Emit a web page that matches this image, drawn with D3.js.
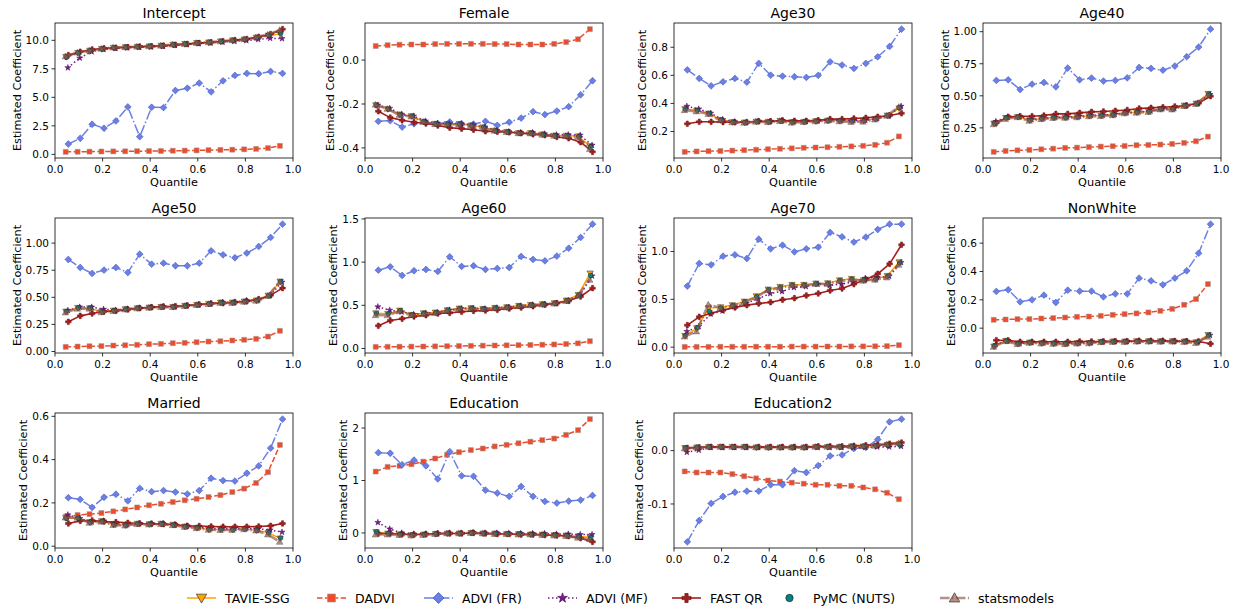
<!DOCTYPE html>
<html><head><meta charset="utf-8">
<script src="https://cdn.jsdelivr.net/npm/d3@7"></script>
<style>body{margin:0;background:#fff;} text{font-family:"DejaVu Sans",sans-serif;fill:#000;}</style>
</head><body><svg id="c" width="1237" height="609"></svg>
<script>
// ---------- DATA ----------
const quantiles = [0.05,0.10,0.15,0.20,0.25,0.30,0.35,0.40,0.45,0.50,0.55,0.60,0.65,0.70,0.75,0.80,0.85,0.90,0.95];
const panels = ["Intercept","Female","Age30","Age40","Age50","Age60","Age70","NonWhite","Married","Education","Education2"];
const yTicks = [
  [0,2.5,5,7.5,10],[-0.4,-0.2,0],[0.2,0.4,0.6,0.8],[0.25,0.5,0.75,1.0],[0,0.25,0.5,0.75,1.0],
  [0,0.5,1,1.5],[0,0.5,1],[0,0.2,0.4,0.6],[0,0.2,0.4,0.6],[0,1,2],[-0.1,0]
];
const xTicks = [0,0.2,0.4,0.6,0.8,1.0];
const seriesNames = ["TAVIE-SSG","DADVI","ADVI (FR)","ADVI (MF)","FAST QR","PyMC (NUTS)","statsmodels"];

const tavie = [
  [8.55,8.9,9.1,9.25,9.35,9.4,9.44,9.47,9.53,9.62,9.68,9.77,9.82,9.91,10.0,10.08,10.24,10.42,10.55],
  [-0.205,-0.223,-0.248,-0.255,-0.28,-0.29,-0.291,-0.291,-0.297,-0.306,-0.321,-0.327,-0.332,-0.332,-0.338,-0.344,-0.344,-0.347,-0.392],
  [0.36,0.35,0.328,0.283,0.267,0.264,0.271,0.269,0.276,0.267,0.269,0.274,0.278,0.276,0.274,0.276,0.29,0.314,0.365],
  [0.284,0.328,0.336,0.31,0.323,0.331,0.331,0.336,0.344,0.346,0.352,0.367,0.372,0.378,0.398,0.398,0.424,0.44,0.516],
  [0.369,0.403,0.4,0.366,0.378,0.391,0.4,0.406,0.412,0.412,0.422,0.431,0.44,0.452,0.452,0.462,0.471,0.517,0.646],
  [0.409,0.402,0.44,0.39,0.409,0.417,0.444,0.463,0.467,0.459,0.471,0.479,0.494,0.506,0.514,0.525,0.556,0.622,0.87],
  [0.118,0.199,0.408,0.418,0.439,0.477,0.533,0.603,0.631,0.652,0.652,0.666,0.669,0.7,0.714,0.7,0.711,0.746,0.889],
  [-0.129,-0.089,-0.11,-0.101,-0.106,-0.108,-0.11,-0.106,-0.104,-0.096,-0.094,-0.094,-0.092,-0.092,-0.092,-0.092,-0.094,-0.099,-0.047],
  [0.13,0.13,0.111,0.116,0.1,0.097,0.104,0.102,0.104,0.099,0.091,0.085,0.077,0.077,0.077,0.08,0.074,0.062,0.036],
  [0.02,-0.01,-0.03,-0.04,-0.03,-0.02,-0.01,-0.01,0.0,-0.01,-0.01,-0.02,-0.02,-0.03,-0.03,-0.04,-0.05,-0.07,-0.08],
  [0.005,0.006,0.007,0.007,0.007,0.007,0.006,0.006,0.006,0.006,0.006,0.007,0.007,0.007,0.008,0.008,0.009,0.011,0.012]
];
const dadvi = [
  [0.22,0.23,0.24,0.25,0.26,0.27,0.28,0.29,0.30,0.32,0.33,0.35,0.37,0.39,0.41,0.44,0.48,0.55,0.75],
  [0.064,0.068,0.07,0.071,0.071,0.073,0.074,0.074,0.074,0.074,0.073,0.073,0.071,0.071,0.071,0.074,0.082,0.095,0.141],
  [0.055,0.058,0.06,0.061,0.064,0.067,0.07,0.074,0.077,0.08,0.084,0.086,0.088,0.091,0.094,0.098,0.105,0.12,0.165],
  [0.063,0.07,0.075,0.078,0.083,0.088,0.094,0.096,0.1,0.104,0.107,0.109,0.115,0.117,0.12,0.125,0.133,0.146,0.182],
  [0.043,0.046,0.049,0.05,0.055,0.058,0.062,0.068,0.071,0.077,0.08,0.086,0.092,0.095,0.102,0.108,0.117,0.138,0.191],
  [0.019,0.02,0.021,0.022,0.023,0.025,0.027,0.029,0.031,0.033,0.035,0.037,0.039,0.041,0.044,0.047,0.052,0.06,0.085],
  [0.003,0.003,0.003,0.004,0.004,0.004,0.005,0.005,0.005,0.006,0.006,0.006,0.007,0.007,0.008,0.008,0.009,0.011,0.021],
  [0.059,0.061,0.064,0.064,0.068,0.071,0.075,0.08,0.082,0.087,0.094,0.099,0.104,0.111,0.122,0.136,0.165,0.205,0.311],
  [0.136,0.144,0.148,0.153,0.161,0.17,0.179,0.189,0.196,0.204,0.212,0.219,0.227,0.236,0.25,0.266,0.292,0.342,0.468],
  [1.17,1.26,1.28,1.31,1.36,1.42,1.49,1.54,1.58,1.61,1.65,1.68,1.71,1.74,1.77,1.8,1.87,1.96,2.17],
  [-0.039,-0.041,-0.041,-0.041,-0.044,-0.048,-0.052,-0.056,-0.058,-0.06,-0.062,-0.064,-0.064,-0.066,-0.066,-0.069,-0.0725,-0.079,-0.091]
];
const adviFR = [
  [0.91,1.41,2.64,2.29,2.93,4.16,1.55,4.13,4.1,5.6,5.8,6.25,5.48,6.45,6.92,7.1,7.07,7.27,7.1],
  [-0.279,-0.276,-0.305,-0.29,-0.285,-0.29,-0.282,-0.29,-0.292,-0.279,-0.297,-0.283,-0.264,-0.235,-0.248,-0.232,-0.212,-0.158,-0.094],
  [0.639,0.578,0.525,0.554,0.578,0.551,0.685,0.601,0.594,0.59,0.585,0.6,0.696,0.673,0.649,0.685,0.732,0.806,0.929],
  [0.62,0.625,0.549,0.591,0.604,0.57,0.716,0.625,0.638,0.615,0.62,0.64,0.721,0.714,0.7,0.732,0.805,0.88,1.02],
  [0.849,0.775,0.72,0.751,0.775,0.729,0.898,0.806,0.815,0.791,0.791,0.815,0.929,0.892,0.865,0.908,0.969,1.052,1.175],
  [0.907,0.946,0.846,0.9,0.915,0.892,1.062,0.95,0.958,0.915,0.927,0.938,1.066,1.031,1.015,1.07,1.162,1.286,1.44],
  [0.638,0.875,0.861,0.951,0.965,0.927,1.129,1.028,1.066,0.997,1.028,1.045,1.199,1.153,1.098,1.15,1.23,1.286,1.286],
  [0.259,0.271,0.186,0.2,0.233,0.181,0.268,0.261,0.261,0.221,0.242,0.242,0.353,0.334,0.306,0.353,0.405,0.529,0.734],
  [0.224,0.216,0.179,0.226,0.24,0.209,0.267,0.252,0.257,0.25,0.241,0.257,0.314,0.303,0.301,0.337,0.371,0.453,0.587],
  [1.53,1.52,1.3,1.39,1.28,1.03,1.55,1.09,1.08,0.816,0.759,0.696,0.886,0.696,0.601,0.57,0.608,0.627,0.715],
  [-0.171,-0.131,-0.099,-0.086,-0.078,-0.076,-0.076,-0.064,-0.064,-0.0375,-0.041,-0.028,-0.01,-0.008,0.004,0.006,0.021,0.054,0.059]
];
const adviMF = [
  [7.6,8.45,9.0,9.2,9.3,9.35,9.4,9.43,9.48,9.57,9.63,9.72,9.77,9.85,9.92,9.98,10.08,10.18,10.15],
  [-0.205,-0.22,-0.247,-0.255,-0.278,-0.288,-0.29,-0.29,-0.295,-0.305,-0.32,-0.326,-0.33,-0.33,-0.336,-0.34,-0.34,-0.342,-0.388],
  [0.38,0.36,0.33,0.285,0.27,0.267,0.274,0.272,0.279,0.27,0.272,0.277,0.282,0.28,0.278,0.28,0.293,0.316,0.38],
  [0.3,0.335,0.337,0.315,0.325,0.333,0.335,0.34,0.347,0.35,0.356,0.37,0.375,0.382,0.4,0.402,0.426,0.443,0.51],
  [0.38,0.41,0.41,0.39,0.382,0.393,0.402,0.408,0.414,0.414,0.424,0.433,0.442,0.455,0.456,0.47,0.475,0.52,0.64],
  [0.483,0.444,0.425,0.395,0.41,0.418,0.445,0.462,0.466,0.46,0.47,0.478,0.493,0.505,0.513,0.524,0.555,0.62,0.84],
  [0.164,0.216,0.348,0.38,0.422,0.46,0.505,0.561,0.582,0.624,0.634,0.659,0.645,0.659,0.68,0.721,0.728,0.742,0.885],
  [-0.115,-0.088,-0.108,-0.1,-0.104,-0.106,-0.108,-0.104,-0.102,-0.095,-0.093,-0.093,-0.091,-0.091,-0.091,-0.091,-0.092,-0.096,-0.05],
  [0.145,0.128,0.112,0.117,0.103,0.1,0.105,0.104,0.105,0.1,0.093,0.088,0.082,0.082,0.082,0.083,0.08,0.075,0.065],
  [0.2,0.076,0.0,-0.02,-0.02,-0.01,0.0,0.0,0.01,0.0,0.0,-0.01,-0.01,-0.01,-0.01,-0.02,-0.02,-0.03,-0.03],
  [-0.003,0.001,0.006,0.006,0.006,0.006,0.006,0.006,0.006,0.006,0.006,0.006,0.006,0.006,0.006,0.006,0.007,0.007,0.008]
];
const fastQR = [
  [8.7,9.0,9.2,9.3,9.35,9.4,9.45,9.48,9.53,9.6,9.68,9.76,9.83,9.92,10.02,10.12,10.3,10.55,10.98],
  [-0.233,-0.262,-0.274,-0.283,-0.289,-0.298,-0.308,-0.312,-0.317,-0.324,-0.326,-0.329,-0.333,-0.338,-0.342,-0.35,-0.356,-0.374,-0.418],
  [0.255,0.269,0.269,0.267,0.266,0.266,0.273,0.273,0.278,0.276,0.276,0.28,0.288,0.288,0.293,0.297,0.305,0.314,0.33],
  [0.289,0.336,0.341,0.341,0.346,0.359,0.359,0.367,0.375,0.378,0.383,0.39,0.401,0.406,0.411,0.417,0.424,0.443,0.497],
  [0.274,0.329,0.351,0.369,0.375,0.388,0.4,0.409,0.415,0.418,0.425,0.434,0.443,0.446,0.455,0.465,0.483,0.52,0.585],
  [0.263,0.324,0.344,0.371,0.386,0.405,0.413,0.425,0.436,0.44,0.448,0.463,0.475,0.49,0.506,0.525,0.552,0.602,0.699],
  [0.23,0.317,0.355,0.387,0.415,0.439,0.456,0.47,0.495,0.512,0.54,0.561,0.592,0.613,0.659,0.707,0.767,0.871,1.07],
  [-0.085,-0.087,-0.096,-0.096,-0.096,-0.096,-0.096,-0.094,-0.094,-0.094,-0.092,-0.092,-0.089,-0.089,-0.089,-0.092,-0.092,-0.094,-0.11],
  [0.105,0.117,0.119,0.114,0.111,0.108,0.105,0.104,0.102,0.099,0.094,0.093,0.091,0.09,0.09,0.09,0.091,0.094,0.105],
  [-0.01,-0.01,-0.02,-0.03,-0.02,-0.01,-0.01,-0.01,0.0,-0.01,-0.02,-0.02,-0.03,-0.03,-0.04,-0.05,-0.06,-0.1,-0.17],
  [0.005,0.006,0.007,0.007,0.007,0.007,0.007,0.007,0.007,0.007,0.007,0.008,0.008,0.008,0.009,0.01,0.011,0.013,0.015]
];
const pymc = [
  [8.5,8.9,9.1,9.25,9.35,9.4,9.44,9.47,9.53,9.62,9.68,9.76,9.82,9.9,9.99,10.08,10.25,10.45,10.62],
  [-0.207,-0.224,-0.249,-0.256,-0.281,-0.291,-0.292,-0.292,-0.298,-0.307,-0.322,-0.328,-0.333,-0.333,-0.339,-0.345,-0.345,-0.348,-0.395],
  [0.358,0.349,0.327,0.282,0.266,0.263,0.27,0.268,0.275,0.266,0.268,0.273,0.277,0.275,0.273,0.275,0.289,0.313,0.37],
  [0.285,0.327,0.335,0.309,0.322,0.33,0.33,0.335,0.343,0.345,0.351,0.366,0.371,0.377,0.397,0.397,0.423,0.439,0.512],
  [0.368,0.402,0.399,0.365,0.377,0.39,0.399,0.405,0.411,0.411,0.421,0.43,0.439,0.451,0.451,0.461,0.47,0.515,0.644],
  [0.405,0.4,0.438,0.388,0.407,0.415,0.442,0.461,0.465,0.457,0.469,0.477,0.492,0.504,0.512,0.523,0.554,0.618,0.845],
  [0.12,0.2,0.375,0.41,0.435,0.475,0.528,0.6,0.625,0.648,0.65,0.662,0.665,0.696,0.71,0.7,0.71,0.742,0.88],
  [-0.127,-0.09,-0.11,-0.102,-0.106,-0.108,-0.11,-0.106,-0.104,-0.097,-0.095,-0.094,-0.093,-0.092,-0.093,-0.093,-0.094,-0.1,-0.05],
  [0.128,0.129,0.11,0.115,0.099,0.096,0.103,0.101,0.103,0.098,0.09,0.084,0.076,0.076,0.076,0.079,0.073,0.062,0.038],
  [0.02,-0.01,-0.03,-0.04,-0.03,-0.02,-0.01,-0.01,0.0,-0.01,-0.01,-0.02,-0.02,-0.03,-0.03,-0.04,-0.05,-0.07,-0.09],
  [0.005,0.006,0.007,0.007,0.007,0.007,0.006,0.006,0.006,0.006,0.006,0.007,0.007,0.007,0.008,0.008,0.009,0.01,0.011]
];
const statsmodels = [
  [8.6,8.92,9.1,9.26,9.36,9.4,9.44,9.47,9.53,9.62,9.68,9.77,9.82,9.91,10.0,10.1,10.27,10.5,10.9],
  [-0.203,-0.222,-0.25,-0.257,-0.282,-0.292,-0.292,-0.293,-0.299,-0.31,-0.322,-0.328,-0.333,-0.334,-0.34,-0.345,-0.346,-0.35,-0.405],
  [0.352,0.343,0.325,0.28,0.265,0.262,0.269,0.267,0.274,0.263,0.267,0.272,0.276,0.272,0.268,0.27,0.285,0.312,0.375],
  [0.278,0.32,0.333,0.305,0.318,0.327,0.328,0.332,0.34,0.342,0.348,0.363,0.368,0.374,0.394,0.393,0.42,0.436,0.505],
  [0.36,0.395,0.395,0.362,0.374,0.388,0.398,0.404,0.41,0.41,0.42,0.429,0.438,0.448,0.448,0.458,0.468,0.512,0.64],
  [0.385,0.385,0.43,0.385,0.4,0.41,0.44,0.458,0.462,0.455,0.466,0.474,0.49,0.5,0.508,0.52,0.55,0.61,0.795],
  [0.11,0.164,0.445,0.41,0.432,0.47,0.52,0.596,0.62,0.645,0.646,0.66,0.66,0.69,0.706,0.695,0.705,0.728,0.86],
  [-0.132,-0.092,-0.113,-0.104,-0.108,-0.111,-0.113,-0.109,-0.107,-0.099,-0.097,-0.097,-0.095,-0.095,-0.096,-0.095,-0.097,-0.105,-0.06],
  [0.132,0.131,0.108,0.113,0.098,0.095,0.102,0.1,0.102,0.097,0.089,0.083,0.076,0.075,0.075,0.078,0.072,0.054,0.02],
  [-0.03,-0.03,-0.04,-0.05,-0.04,-0.02,-0.01,-0.01,0.0,-0.01,-0.02,-0.02,-0.03,-0.03,-0.04,-0.05,-0.06,-0.09,-0.12],
  [0.004,0.006,0.007,0.007,0.007,0.007,0.006,0.006,0.006,0.006,0.006,0.007,0.007,0.007,0.008,0.008,0.009,0.012,0.014]
];
const allSeries = [tavie, dadvi, adviFR, adviMF, fastQR, pymc, statsmodels];

// ---------- STYLE ----------
const styles = [
  {color:"#FFA500", dash:null, width:1.5, op:1, marker:"triDown", ms:3.2, fill:"#FFA500", edge:"#333", dx:-0.004},
  {color:"#EE4B2B", dash:"5.5,2.4", width:1.5, op:1, marker:"square", ms:2.5, fill:"#EE4B2B", edge:"#999", dx:-0.005},
  {color:"#6b80e6", dash:"9.6,2.4,1.5,2.4", width:1.5, op:1, marker:"diamond", ms:3.4, fill:"#6b80e6", edge:"#3a4cb0", dx:0.006},
  {color:"#7a1a8c", dash:"1.5,2.5", width:1.5, op:1, marker:"star", ms:2.6, fill:"#7a1a8c", edge:"#4a0a5a", dx:0.004},
  {color:"#a51e1e", dash:null, width:1.6, op:1, marker:"plus", ms:2.8, fill:"#a51e1e", edge:"#6a0f0f", dx:0.006},
  {color:"#0a8080", dash:"none", width:0, op:1, marker:"circle", ms:2.3, fill:"#0a8080", edge:"#0a3030", dx:-0.002},
  {color:"#8c564b", dash:"9.6,2.4,1.5,2.4", width:2.6, op:0.65, marker:"triUp", ms:3.3, fill:"#8c564b", edge:"#4a2a20", dx:-0.006}
];
function markerPath(type, r){
  switch(type){
    case "triDown": return `M${-r},${-r*0.75}L${r},${-r*0.75}L0,${r}Z`;
    case "triUp": return `M0,${-r}L${r},${r*0.75}L${-r},${r*0.75}Z`;
    case "square": return `M${-r},${-r}h${2*r}v${2*r}h${-2*r}Z`;
    case "diamond": return `M0,${-r}L${r},0L0,${r}L${-r},0Z`;
    case "star": return d3.symbol(d3.symbolStar, r*r*1.7)();
    case "circle": return d3.symbol(d3.symbolCircle, Math.PI*r*r)();
    case "plus": { const t=r*0.36; return `M${-t},${-r}H${t}V${-t}H${r}V${t}H${t}V${r}H${-t}V${t}H${-r}V${-t}H${-t}Z`; }
  }
}

// ---------- LAYOUT ----------
const svg = d3.select("#c");
const colLeft = [55,365,674,983], rowTop = [23,218,413], W = 238, H = 135;
const tickFont = 10.5, labFont = 11.3, titleFont = 14;

function decimals(ticks){
  let d = 0;
  ticks.forEach(t=>{ const s = String(Math.abs(t)); const i = s.indexOf("."); if(i>=0) d=Math.max(d,s.length-i-1); });
  return d;
}

panels.forEach((name, p)=>{
  const left = colLeft[p%4], top = rowTop[Math.floor(p/4)];
  const g = svg.append("g");
  let lo = Infinity, hi = -Infinity;
  allSeries.forEach(s=>{ lo=Math.min(lo,d3.min(s[p])); hi=Math.max(hi,d3.max(s[p])); });
  const pad = (hi-lo)*0.05;
  const x = d3.scaleLinear().domain([0,1]).range([left,left+W]);
  const y = d3.scaleLinear().domain([lo-pad,hi+pad]).range([top+H,top]);

  allSeries.forEach((s,si)=>{
    const st = styles[si];
    const pts = quantiles.map((q,i)=>[x(q+st.dx), y(s[p][i])]);
    if(st.width>0){
      g.append("path").attr("d", d3.line()(pts)).attr("fill","none")
        .attr("stroke",st.color).attr("stroke-width",st.width).attr("stroke-opacity",st.op)
        .attr("stroke-dasharray", st.dash||null).attr("stroke-linejoin","round");
    }
    pts.forEach(pt=>{
      g.append("path").attr("d",markerPath(st.marker,st.ms)).attr("transform",`translate(${pt[0]},${pt[1]})`)
        .attr("fill",st.fill).attr("fill-opacity",st.op).attr("stroke",st.edge).attr("stroke-width",0.5).attr("stroke-opacity",st.op);
    });
  });

  g.append("rect").attr("x",left).attr("y",top).attr("width",W).attr("height",H)
    .attr("fill","none").attr("stroke","#000").attr("stroke-width",0.8);

  xTicks.forEach(t=>{
    g.append("line").attr("x1",x(t)).attr("x2",x(t)).attr("y1",top+H).attr("y2",top+H+3.5).attr("stroke","#000").attr("stroke-width",0.8);
    g.append("text").attr("x",x(t)).attr("y",top+H+15).attr("text-anchor","middle").attr("font-size",tickFont).text(t.toFixed(1));
  });
  const dec = decimals(yTicks[p]);
  let maxW = 0;
  yTicks[p].forEach(t=>{
    g.append("line").attr("x1",left-3.5).attr("x2",left).attr("y1",y(t)).attr("y2",y(t)).attr("stroke","#000").attr("stroke-width",0.8);
    const lbl = g.append("text").attr("x",left-6).attr("y",y(t)).attr("dy","0.36em").attr("text-anchor","end")
      .attr("font-size",tickFont).text(t.toFixed(dec));
    maxW = Math.max(maxW, lbl.node().getComputedTextLength());
  });
  g.append("text").attr("x",left+W/2).attr("y",top-5).attr("text-anchor","middle").attr("font-size",titleFont).text(name);
  g.append("text").attr("x",left+W/2).attr("y",top+H+28).attr("text-anchor","middle").attr("font-size",labFont).text("Quantile");
  const ly = top+H/2, lx = left-6-maxW-5;
  g.append("text").attr("transform",`translate(${lx},${ly}) rotate(-90)`).attr("text-anchor","middle").attr("font-size",labFont).text("Estimated Coefficient");
});

// ---------- LEGEND ----------
const legY = 598;
const legX = [187,317,424,548,672,775,940];
const leg = svg.append("g");
seriesNames.forEach((n,si)=>{
  const st = styles[si], x0 = legX[si];
  if(st.width>0){
    leg.append("line").attr("x1",x0).attr("x2",x0+29).attr("y1",legY).attr("y2",legY)
      .attr("stroke",st.color).attr("stroke-width",st.width).attr("stroke-opacity",st.op).attr("stroke-dasharray",st.dash||null);
  }
  leg.append("path").attr("d",markerPath(st.marker, st.ms*1.6)).attr("transform",`translate(${x0+14.5},${legY})`)
    .attr("fill",st.fill).attr("fill-opacity",st.op).attr("stroke",st.edge).attr("stroke-width",0.7);
  leg.append("text").attr("x",x0+38).attr("y",legY).attr("dy","0.36em").attr("font-size",12.5).text(n);
});
</script></body></html>
